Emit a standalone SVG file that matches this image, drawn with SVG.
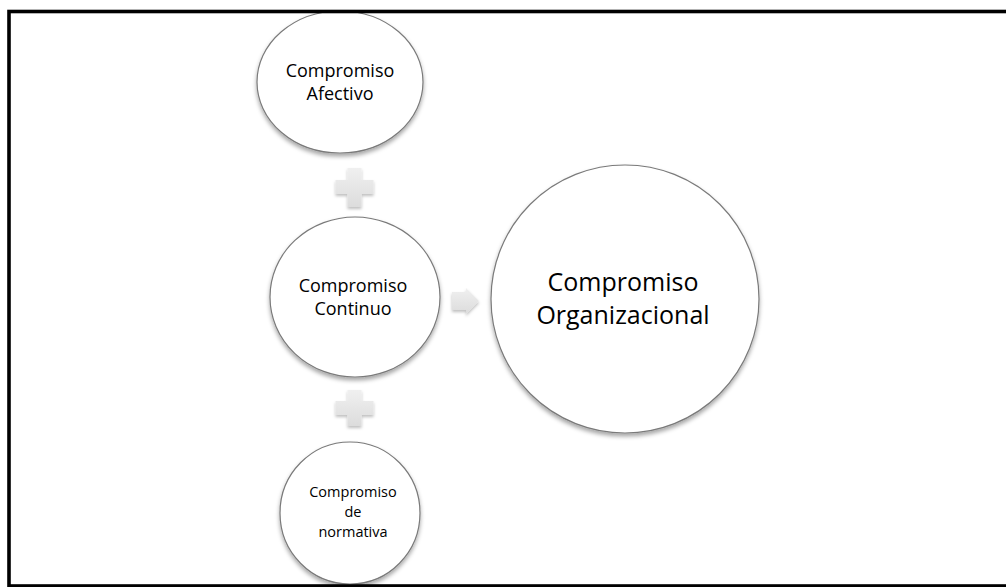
<svg xmlns="http://www.w3.org/2000/svg" width="1006" height="587" viewBox="0 0 1006 587">
  <defs>
    <filter id="sh" x="-20%" y="-20%" width="140%" height="140%">
      <feDropShadow dx="0" dy="3" stdDeviation="2" flood-color="#000" flood-opacity="0.35"/>
    </filter>
    <filter id="sh2" x="-30%" y="-30%" width="160%" height="160%">
      <feDropShadow dx="0" dy="2" stdDeviation="1.5" flood-color="#000" flood-opacity="0.25"/>
    </filter>
    <linearGradient id="gg" x1="0" y1="0" x2="0" y2="1">
      <stop offset="0" stop-color="#f0f0f0"/>
      <stop offset="1" stop-color="#dcdcdc"/>
    </linearGradient>
  </defs>
  <style>
    .node { fill: #ffffff; stroke: #7a7a7a; stroke-width: 1.2; filter: url(#sh); }
    .lbl { font-family: "Open Sans", "Liberation Sans", sans-serif; fill: #000; text-anchor: middle; }
    .sym { fill: url(#gg); filter: url(#sh2); }
  </style>
  <rect x="0" y="0" width="1006" height="587" fill="#ffffff"/>

  <g id="connectors">
    <path class="sym" d="M347.5,168 h14 v12 h12 v14 h-12 v13 h-14 v-13 h-12 v-14 h12 z"/>
    <path class="sym" d="M347.5,390 h14 v11 h12 v14 h-12 v11 h-14 v-11 h-12 v-14 h12 z"/>
    <path class="sym" d="M452,292 h14 v-4 l13,13 l-13,13 v-4 h-14 z"/>
  </g>

  <g id="node-afectivo">
    <ellipse class="node" cx="340" cy="82" rx="83" ry="71"/>
    <text class="lbl" font-size="18" x="340" y="77">Compromiso</text>
    <text class="lbl" font-size="18" x="340" y="100">Afectivo</text>
  </g>

  <g id="node-continuo">
    <ellipse class="node" cx="355" cy="297" rx="85" ry="80"/>
    <text class="lbl" font-size="18" x="353" y="292">Compromiso</text>
    <text class="lbl" font-size="18" x="353" y="315">Continuo</text>
  </g>

  <g id="node-normativa">
    <ellipse class="node" cx="350" cy="513" rx="70" ry="71"/>
    <text class="lbl" font-size="14.5" x="353" y="497">Compromiso</text>
    <text class="lbl" font-size="14.5" x="353" y="517">de</text>
    <text class="lbl" font-size="14.5" x="353" y="537">normativa</text>
  </g>

  <g id="node-organizacional">
    <ellipse class="node" cx="625" cy="299" rx="134" ry="134"/>
    <text class="lbl" font-size="25" x="623" y="291">Compromiso</text>
    <text class="lbl" font-size="25" x="623" y="324">Organizacional</text>
  </g>

  <g id="frame">
    <rect x="9" y="11.5" width="1010" height="574.5" fill="none" stroke="#000" stroke-width="3.6"/>
  </g>
</svg>
